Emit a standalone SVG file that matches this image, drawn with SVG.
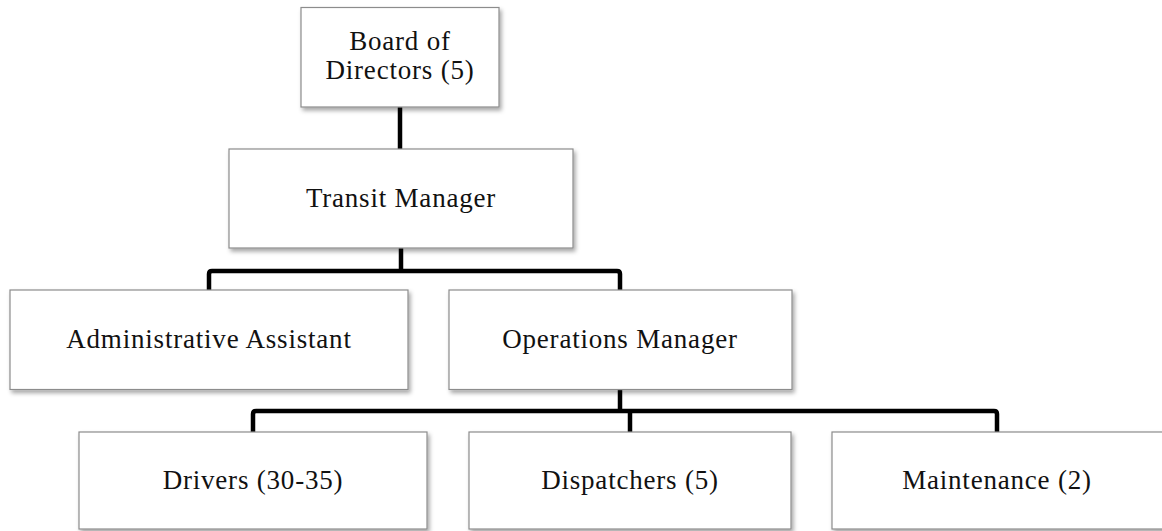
<svg xmlns="http://www.w3.org/2000/svg" width="1162" height="531" viewBox="0 0 1162 531">
  <defs>
    <filter id="shadow" x="-10%" y="-10%" width="120%" height="130%">
      <feDropShadow dx="2" dy="3" stdDeviation="2" flood-color="#000" flood-opacity="0.35"/>
    </filter>
    <style>
      .box { fill: #ffffff; stroke: #8c8c8c; stroke-width: 1.2; filter: url(#shadow); }
      .label { font-family: "Liberation Serif", "Times New Roman", serif; font-size: 27px; letter-spacing: 0.8px; fill: #111; text-anchor: middle; }
      .link { fill: none; stroke: #000; stroke-width: 4.5; stroke-linejoin: round; stroke-linecap: butt; }
    </style>
  </defs>
  <rect width="1162" height="531" fill="#ffffff"/>

  <!-- connectors -->
  <g id="connectors">
    <path class="link" d="M400 107 V149"/>
    <path class="link" d="M401 248 V271"/>
    <path class="link" d="M209 290 V274 Q209 271 212 271 H617 Q620 271 620 274 V290"/>
    <path class="link" d="M620 389 V411"/>
    <path class="link" d="M253 432 V414 Q253 411 256 411 H994 Q997 411 997 414 V432"/>
    <path class="link" d="M630 411 V432"/>
  </g>

  <g id="board">
    <rect class="box" x="301" y="7.5" width="198" height="99.5"/>
    <text class="label" x="400" y="50">Board of</text>
    <text class="label" x="400" y="79">Directors (5)</text>
  </g>

  <g id="transit-manager">
    <rect class="box" x="229" y="149" width="344" height="99"/>
    <text class="label" x="401" y="207">Transit Manager</text>
  </g>

  <g id="administrative-assistant">
    <rect class="box" x="10" y="290" width="398" height="99.5"/>
    <text class="label" x="209" y="348">Administrative Assistant</text>
  </g>

  <g id="operations-manager">
    <rect class="box" x="449" y="290" width="343" height="99.5"/>
    <text class="label" x="620" y="348">Operations Manager</text>
  </g>

  <g id="drivers">
    <rect class="box" x="79" y="432" width="348" height="97"/>
    <text class="label" x="253" y="489">Drivers (30-35)</text>
  </g>

  <g id="dispatchers">
    <rect class="box" x="469" y="432" width="322" height="97"/>
    <text class="label" x="630" y="489">Dispatchers (5)</text>
  </g>

  <g id="maintenance">
    <rect class="box" x="832" y="432" width="332" height="97"/>
    <text class="label" x="997" y="489">Maintenance (2)</text>
  </g>
</svg>
